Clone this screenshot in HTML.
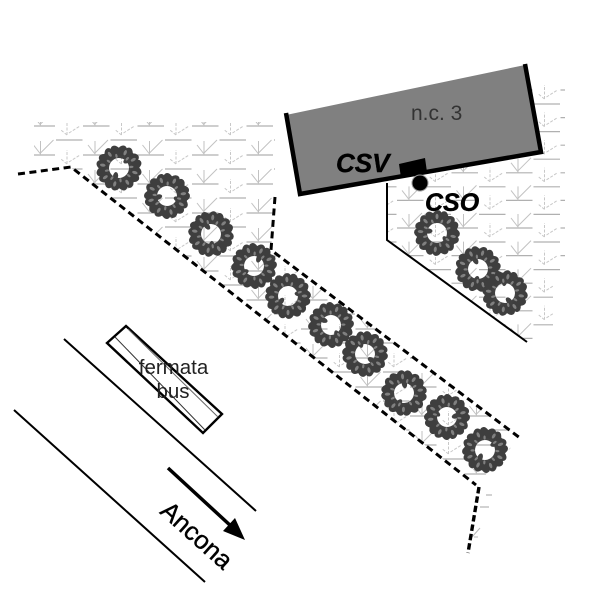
<!DOCTYPE html>
<html>
<head>
<meta charset="utf-8">
<style>
html,body{margin:0;padding:0;background:#fff}
svg{display:block}
text{font-family:"Liberation Sans",sans-serif}
</style>
</head>
<body>
<svg width="600" height="600" viewBox="0 0 600 600" xmlns="http://www.w3.org/2000/svg">
<defs>
<g id="a" fill="none">
  <path d="M0 0H26.5" stroke="#b0b0b0" stroke-width="1.2"/>
  <path d="M12 0V-14M12 -1L5 -10M12 -2L25 -15" stroke="#c2c2c2" stroke-width="1"/>
</g>
<g id="b" fill="none">
  <path d="M0 0H26.5" stroke="#b0b0b0" stroke-width="1.2"/>
  <path d="M11 -5V-19M11 -5L5 -10M13 -7L24 -14" stroke="#c8c8c8" stroke-width="1" stroke-dasharray="3 1.5"/>
</g>
<g id="ra">
  <use href="#a" x="28.5"/><use href="#a" x="83"/><use href="#a" x="137.5"/><use href="#a" x="192"/><use href="#a" x="246.5"/><use href="#a" x="301"/><use href="#a" x="355.5"/><use href="#a" x="410"/><use href="#a" x="464.5"/>
</g>
<g id="rb">
  <use href="#b" x="56"/><use href="#b" x="110.5"/><use href="#b" x="165"/><use href="#b" x="219.5"/><use href="#b" x="274"/><use href="#b" x="328.5"/><use href="#b" x="383"/><use href="#b" x="437.5"/><use href="#b" x="492"/>
</g>
<g id="rc">
  <use href="#a" x="397"/><use href="#a" x="451.5"/><use href="#a" x="506"/><use href="#a" x="560.5"/>
</g>
<g id="rd">
  <use href="#b" x="370"/><use href="#b" x="424.5"/><use href="#b" x="479"/><use href="#b" x="533.5"/>
</g>
<clipPath id="cl"><polygon points="34,122 275,122 275,197 271,250 520,438 476,485 70,167 34,167"/></clipPath>
<clipPath id="cr"><polygon points="387,150 530,84 565,84 565,275 553,275 553,342 527,342 387,240"/></clipPath>
<ellipse id="l" cx="0" cy="-17.5" rx="4.4" ry="5.6" fill="#3e3e3e"/>
<ellipse id="l2" cx="0" cy="-16.5" rx="1.5" ry="2.8" fill="#808080"/>
<g id="w">
  <circle r="15.2" fill="none" stroke="#414141" stroke-width="10.5"/>
  <use href="#l" transform="rotate(0) rotate(25 0 -17.5)"/><use href="#l" transform="rotate(22) rotate(-20 0 -17.5)"/><use href="#l" transform="rotate(45) rotate(25 0 -17.5)"/><use href="#l" transform="rotate(68) rotate(-20 0 -17.5)"/><use href="#l" transform="rotate(90) rotate(25 0 -17.5)"/><use href="#l" transform="rotate(113) rotate(-20 0 -17.5)"/><use href="#l" transform="rotate(135) rotate(25 0 -17.5)"/><use href="#l" transform="rotate(158) rotate(-20 0 -17.5)"/><use href="#l" transform="rotate(180) rotate(25 0 -17.5)"/><use href="#l" transform="rotate(203) rotate(-20 0 -17.5)"/><use href="#l" transform="rotate(225) rotate(25 0 -17.5)"/><use href="#l" transform="rotate(248) rotate(-20 0 -17.5)"/><use href="#l" transform="rotate(270) rotate(25 0 -17.5)"/><use href="#l" transform="rotate(293) rotate(-20 0 -17.5)"/><use href="#l" transform="rotate(315) rotate(25 0 -17.5)"/><use href="#l" transform="rotate(338) rotate(-20 0 -17.5)"/>
  <ellipse cx="7" cy="-9" rx="2.6" ry="4.5" fill="#414141" transform="rotate(50 7 -9)"/>
  <ellipse cx="-2" cy="9" rx="2.6" ry="4.5" fill="#414141"/>
  <use href="#l2" transform="rotate(12)"/><use href="#l2" transform="rotate(50)"/><use href="#l2" transform="rotate(96)"/><use href="#l2" transform="rotate(140)"/><use href="#l2" transform="rotate(185)"/><use href="#l2" transform="rotate(226)"/><use href="#l2" transform="rotate(270)"/><use href="#l2" transform="rotate(316)"/>
  <use href="#l2" transform="rotate(32) scale(.75)"/><use href="#l2" transform="rotate(75) scale(.75)"/><use href="#l2" transform="rotate(118) scale(.75)"/><use href="#l2" transform="rotate(163) scale(.75)"/><use href="#l2" transform="rotate(205) scale(.75)"/><use href="#l2" transform="rotate(248) scale(.75)"/><use href="#l2" transform="rotate(293) scale(.75)"/><use href="#l2" transform="rotate(338) scale(.75)"/>
</g>
</defs>

<!-- grass areas -->
<g clip-path="url(#cl)">
  <use href="#ra" y="126"/><use href="#ra" y="155"/><use href="#ra" y="184"/><use href="#ra" y="213"/><use href="#ra" y="242"/><use href="#ra" y="271"/><use href="#ra" y="300"/><use href="#ra" y="329"/><use href="#ra" y="358"/><use href="#ra" y="387"/><use href="#ra" y="416"/><use href="#ra" y="445"/><use href="#ra" y="474"/>
  <use href="#rb" y="140"/><use href="#rb" y="169"/><use href="#rb" y="198"/><use href="#rb" y="227"/><use href="#rb" y="256"/><use href="#rb" y="285"/><use href="#rb" y="314"/><use href="#rb" y="343"/><use href="#rb" y="372"/><use href="#rb" y="401"/><use href="#rb" y="430"/><use href="#rb" y="459"/>
</g>
<g clip-path="url(#cr)">
  <use href="#rc" y="90"/><use href="#rc" y="117.6"/><use href="#rc" y="145.2"/><use href="#rc" y="172.8"/><use href="#rc" y="200.4"/><use href="#rc" y="228"/><use href="#rc" y="255.6"/><use href="#rc" y="283.2"/><use href="#rc" y="310.8"/><use href="#rc" y="338.4"/>
  <use href="#rd" y="104"/><use href="#rd" y="131.6"/><use href="#rd" y="159.2"/><use href="#rd" y="186.8"/><use href="#rd" y="214.4"/><use href="#rd" y="242"/><use href="#rd" y="269.6"/><use href="#rd" y="297.2"/><use href="#rd" y="324.8"/>
</g>
<path d="M486 495H492M480 507H489" stroke="#b8b8b8" stroke-width="1.2" fill="none"/>
<path d="M472 537L480 528M474 537H478" stroke="#b8b8b8" stroke-width="1" fill="none"/>

<!-- road and bus stop -->
<path d="M64 339L256 511M14 410L205 582" stroke="#000" stroke-width="2" fill="none"/>
<polygon points="126,326 107,343 203,433 222,414" fill="#fff" stroke="#000" stroke-width="2.4"/>
<path d="M128 329L218 417" stroke="#666" stroke-width="1" fill="none"/>
<path d="M115 337L205 430" stroke="#333" stroke-width="1" fill="none"/>
<text x="173.5" y="374" font-size="20.5" fill="#222" text-anchor="middle">fermata</text>
<text x="173" y="398" font-size="20.5" fill="#222" text-anchor="middle">bus</text>

<!-- arrow -->
<path d="M168 468L232 527" stroke="#000" stroke-width="3.5" fill="none"/>
<polygon points="245,540 235,518 223,531" fill="#000"/>
<text x="197" y="544" font-size="25.5" fill="#000" stroke="#000" stroke-width=".4" text-anchor="middle" transform="rotate(42 197 535)">Ancona</text>

<!-- dashed boundaries -->
<path d="M18 174L71 167L476 485" fill="none" stroke="#000" stroke-width="3" stroke-dasharray="7 4.5"/>
<path d="M275 197L271 250L520 438" fill="none" stroke="#000" stroke-width="3" stroke-dasharray="7 4.5"/>
<path d="M479 487L468 553" fill="none" stroke="#000" stroke-width="3.4" stroke-dasharray="6.5 3"/>

<!-- building -->
<path d="M387 183V240L527 342" fill="none" stroke="#000" stroke-width="2"/>
<polygon points="286,115 525,65 541,152 300,193" fill="#808080"/>
<path d="M286 113L300 194L541 152L525 64" fill="none" stroke="#000" stroke-width="4.5"/>
<polygon points="399,164 425,158 427,172 401,178" fill="#000"/>
<circle cx="420" cy="183" r="8" fill="#000" stroke="#999" stroke-width="1"/>
<text x="411" y="120" font-size="21" fill="#333">n.c. 3</text>
<text x="336" y="172" font-size="26" font-weight="bold" font-style="italic" fill="#000" stroke="#000" stroke-width=".4">CSV</text>
<text x="425" y="211" font-size="25" font-weight="bold" font-style="italic" fill="#000" stroke="#000" stroke-width=".4">CSO</text>

<!-- shrubs -->
<use href="#w" transform="translate(119 168) rotate(10)"/>
<use href="#w" transform="translate(167 196) rotate(70)"/>
<use href="#w" transform="translate(211 234) rotate(140)"/>
<use href="#w" transform="translate(254 266) rotate(200)"/>
<use href="#w" transform="translate(288 296) rotate(40)"/>
<use href="#w" transform="translate(331 325) rotate(110)"/>
<use href="#w" transform="translate(365 354) rotate(300)"/>
<use href="#w" transform="translate(404 393) rotate(170)"/>
<use href="#w" transform="translate(447 417) rotate(250)"/>
<use href="#w" transform="translate(485 450) rotate(20)"/>
<use href="#w" transform="translate(437 233) rotate(90)"/>
<use href="#w" transform="translate(478 269) rotate(150)"/>
<use href="#w" transform="translate(505 293) rotate(320)"/>
</svg>
</body>
</html>
